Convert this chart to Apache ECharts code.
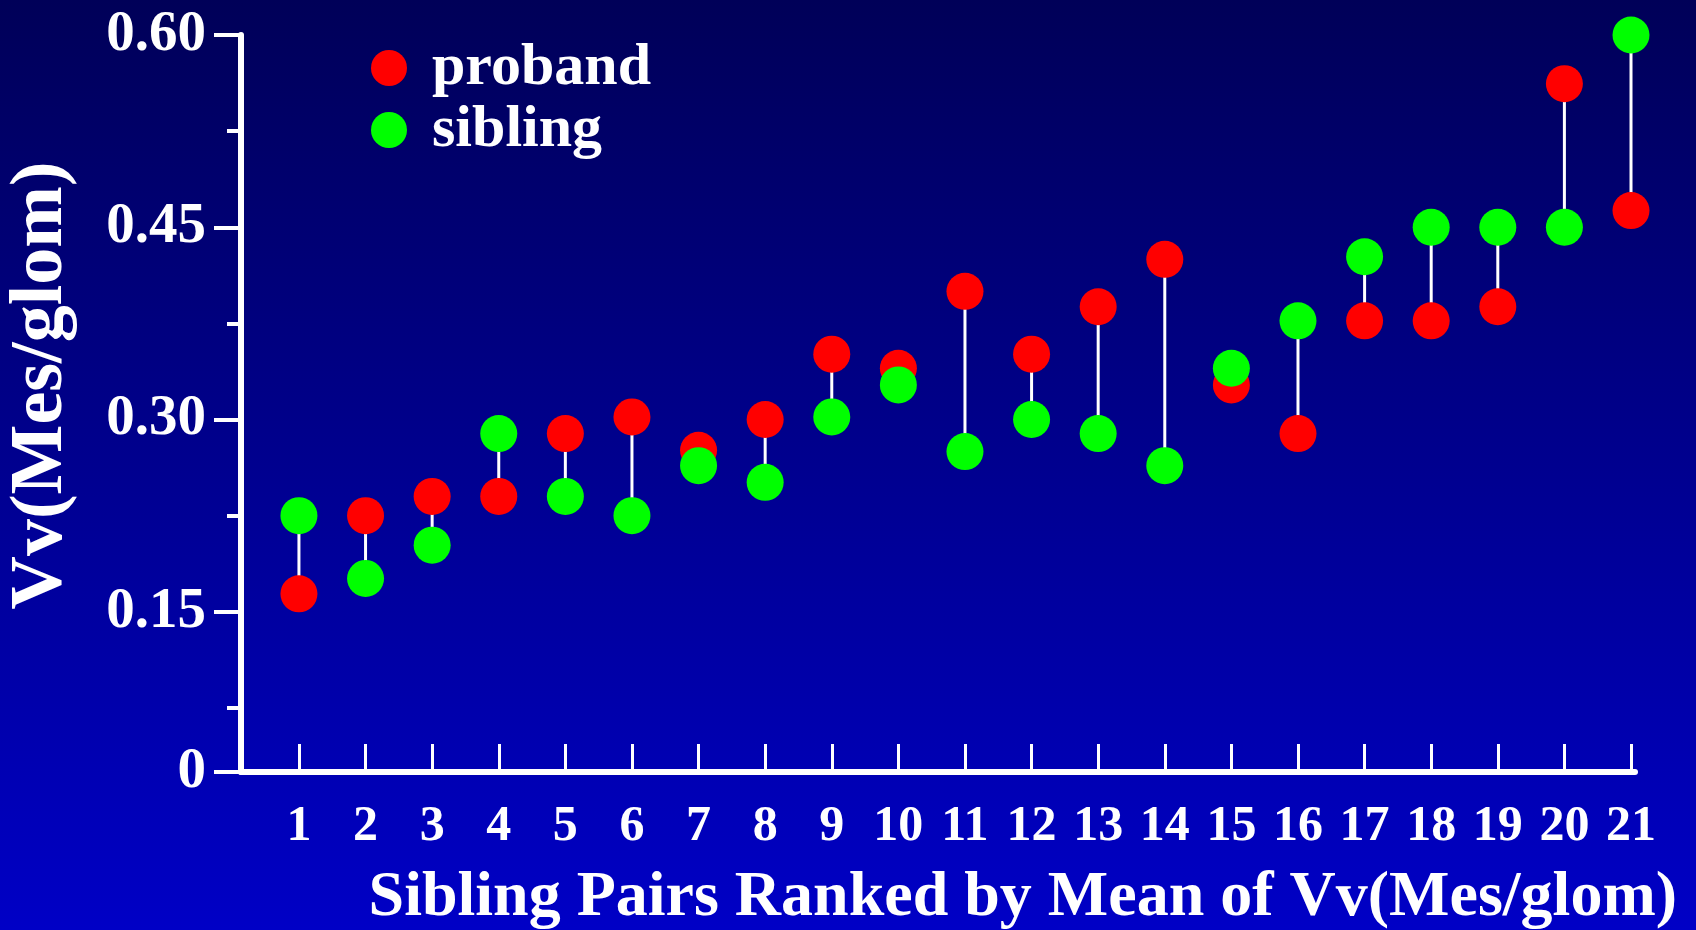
<!DOCTYPE html>
<html>
<head>
<meta charset="utf-8">
<script src="https://cdn.jsdelivr.net/npm/echarts@6/dist/echarts.min.js"></script>
<style>
  html, body { margin: 0; padding: 0; }
  #main { width: 1696px; height: 930px; }
</style>
</head>
<body>
<div id="main"></div>
<script>
// sibling pairs, ranked by mean Vv(Mes/glom)
var pairs = [1, 2, 3, 4, 5, 6, 7, 8, 9, 10, 11, 12, 13, 14, 15, 16, 17, 18, 19, 20, 21]
var proband = [0.164, 0.225, 0.240, 0.240, 0.289, 0.302, 0.276, 0.300, 0.351, 0.340, 0.400,
  0.351, 0.388, 0.425, 0.327, 0.289, 0.377, 0.377, 0.388, 0.562, 0.463]
var sibling = [0.225, 0.176, 0.202, 0.289, 0.240, 0.225, 0.264, 0.251, 0.302, 0.327, 0.275,
  0.300, 0.289, 0.264, 0.340, 0.377, 0.427, 0.450, 0.450, 0.450, 0.600]
var yLabels = [0.025, 0.15, 0.30, 0.45, 0.60]
var yMinorTicks = [0.075, 0.225, 0.375, 0.525]

var font = 'Liberation Serif'
var myChart = echarts.init(document.getElementById('main'))

var option = {
  backgroundColor: {
    type: 'linear', x: 0, y: 0, x2: 0, y2: 1,
    colorStops: [{ offset: 0, color: '#000058' }, { offset: 1, color: '#0000c6' }]
  },
  animation: false,
  title: {
    text: 'Sibling Pairs Ranked by Mean of Vv(Mes/glom)',
    right: 19,
    top: 866,
    padding: 0,
    textStyle: { color: '#fff', fontFamily: font, fontWeight: 'bold', fontSize: 64 }
  },
  legend: {
    orient: 'vertical',
    left: 366,
    top: 33,
    itemWidth: 36,
    itemHeight: 36,
    itemGap: 2,
    icon: 'circle',
    data: ['proband', 'sibling'],
    textStyle: { color: '#fff', fontFamily: font, fontWeight: 'bold', fontSize: 60, padding: [0, 0, 0, 20] }
  },
  grid: { left: 241, top: 35, right: 61, bottom: 158, outerBoundsMode: 'none' },
  xAxis: {
    type: 'value',
    min: 0.13,
    max: 21.06,
    splitLine: { show: false },
    axisLine: { show: true, lineStyle: { color: '#fff', width: 6 } },
    axisTick: { show: true, inside: true, length: 28, customValues: pairs, lineStyle: { color: '#fff', width: 3 } },
    axisLabel: {
      customValues: pairs,
      margin: 30,
      color: '#fff', fontFamily: font, fontWeight: 'bold', fontSize: 50
    }
  },
  yAxis: [{
    type: 'value',
    min: 0.025,
    max: 0.60,
    name: 'Vv(Mes/glom)',
    nameLocation: 'middle',
    nameRotate: 90,
    nameGap: 162,
    nameTextStyle: { color: '#fff', fontFamily: font, fontWeight: 'bold', fontSize: 74, padding: [0, 0, 0, 36] },
    splitLine: { show: false },
    axisLine: { show: true, lineStyle: { color: '#fff', width: 6 } },
    axisTick: { show: true, length: 27, customValues: yLabels, lineStyle: { color: '#fff', width: 4 } },
    axisLabel: {
      customValues: yLabels,
      margin: 35,
      color: '#fff', fontFamily: font, fontWeight: 'bold', fontSize: 57,
      formatter: function (v) { return v < 0.1 ? '0' : v.toFixed(2) }
    }
  }, {
    type: 'value',
    position: 'left',
    min: 0.025,
    max: 0.60,
    splitLine: { show: false },
    axisLine: { show: false },
    axisTick: { show: true, length: 14, customValues: yMinorTicks, lineStyle: { color: '#fff', width: 4 } },
    axisLabel: { show: false }
  }],
  series: [{
    type: 'custom',
    name: 'links',
    z: 1,
    silent: true,
    data: pairs.map(function (p, i) { return [p, proband[i], sibling[i]] }),
    renderItem: function (params, api) {
      var a = api.coord([api.value(0), api.value(1)])
      var b = api.coord([api.value(0), api.value(2)])
      return {
        type: 'line',
        shape: { x1: a[0], y1: a[1], x2: b[0], y2: b[1] },
        style: { stroke: '#fff', lineWidth: 3 }
      }
    }
  }, {
    type: 'scatter',
    name: 'proband',
    z: 3,
    symbolSize: 37,
    itemStyle: { color: '#ff0000', opacity: 1 },
    data: pairs.map(function (p, i) { return [p, proband[i]] })
  }, {
    type: 'scatter',
    name: 'sibling',
    z: 4,
    symbolSize: 37,
    itemStyle: { color: '#00ff00', opacity: 1 },
    data: pairs.map(function (p, i) { return [p, sibling[i]] })
  }]
}

myChart.setOption(option)
</script>
</body>
</html>
